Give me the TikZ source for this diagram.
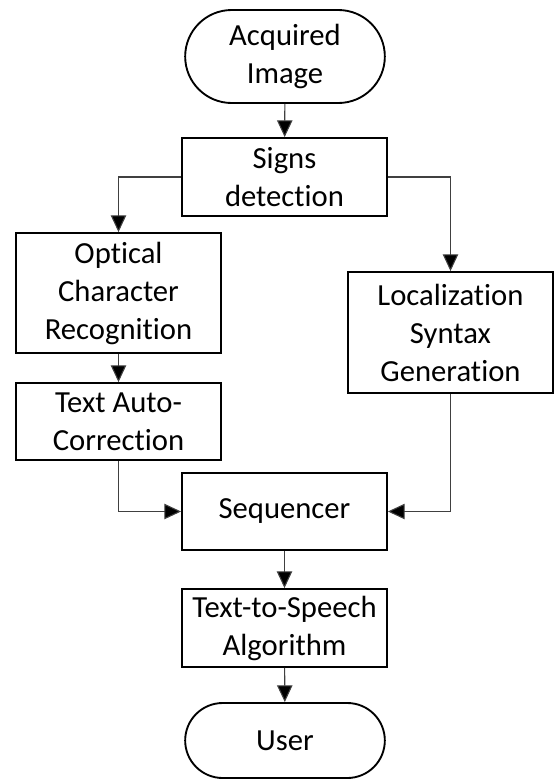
\documentclass[tikz,border=0pt]{standalone}
\usepackage{fontspec}
\setmainfont{Carlito}[Ligatures={NoCommon}]
\usetikzlibrary{arrows.meta,shapes.misc}
\begin{document}
\begin{tikzpicture}[x=0.75pt, y=-0.75pt,
        box/.style ={draw, line width=1.4pt, align=center, inner sep=2pt, minimum width=153.75pt},
        term/.style={box, rounded rectangle},
        flow/.style={line width=0.8pt, draw=black!75, -{Triangle[length=12.5pt,width=11.5pt,fill=black]}},
        font=\fontsize{23}{28.5}\selectfont]
        \useasboundingbox (0,0) rectangle (554,779);
        % Ablauf mittig
        \node[term, minimum height=69.75pt] (acq)  at (285,56.5)    {Acquired\\Image};
        \node[box,  minimum height=58.5pt]  (sign) at (284.5,177)   {Signs\\detection};
        \node[box,  minimum height=57.75pt] (seq)  at (284.5,511.5) {Sequencer};
        \node[box,  minimum height=58.5pt]  (tts)  at (284.5,628)   {Text-to-Speech\\Algorithm};
        \node[term, minimum height=56.25pt] (user) at (285,740.5)   {User};
        % linker Zweig
        \node[box, minimum height=90pt]    (ocr) at (118.5,293)   {Optical\\Character\\Recognition};
        \node[box, minimum height=57.75pt] (tac) at (118.5,421.5) {Text Auto-\\Correction};
        % rechter Zweig
        \node[box, minimum height=90.75pt] (loc) at (450.5,332.5) {Localization\\Syntax\\Generation};

        % Verbindungen
        \draw[flow] (acq) -- (sign);
        \draw[flow] (sign.west) -| (ocr.north);
        \draw[flow] (sign.east) -| (loc.north);
        \draw[flow] (ocr) -- (tac);
        \draw[flow] (tac.south) |- (seq.west);
        \draw[flow] (loc.south) |- (seq.east);
        \draw[flow] (seq) -- (tts);
        \draw[flow] (tts) -- (user);
    \end{tikzpicture}
\end{document}
